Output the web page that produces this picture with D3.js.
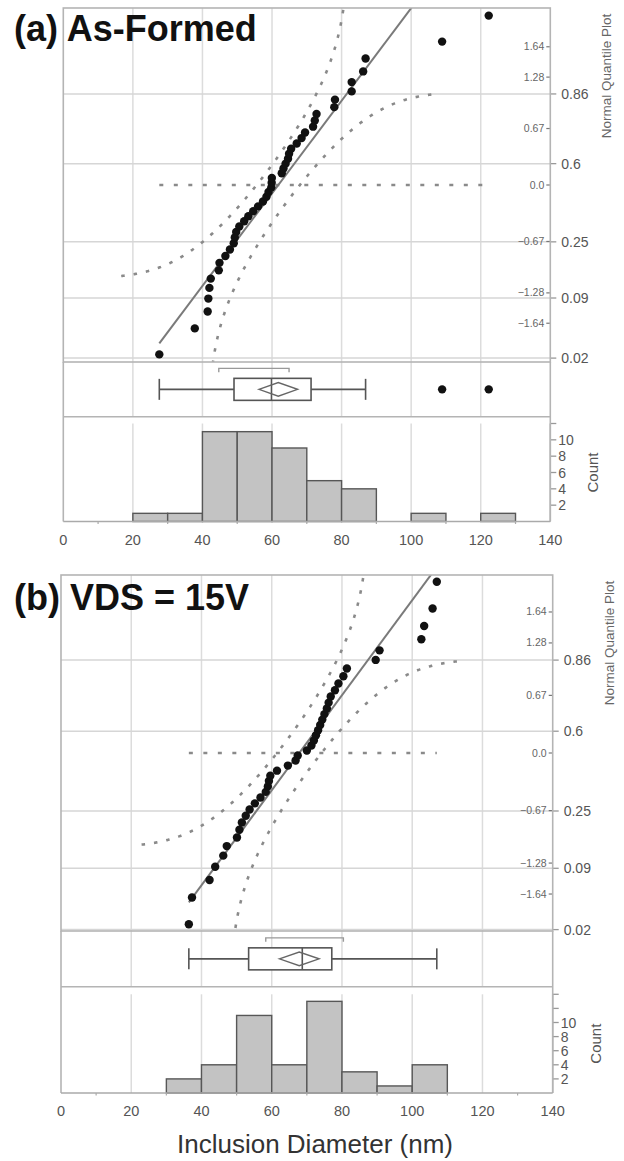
<!DOCTYPE html>
<html>
<head>
<meta charset="utf-8">
<script src="https://cdn.jsdelivr.net/npm/d3@7"></script>
<style>
  body { margin: 0; background: #fff; }
  svg { display: block; font-family: "Liberation Sans", Arial, sans-serif; }
</style>
</head>
<body>
<svg id="chart" width="624" height="1161"></svg>
<script>
// Sorted inclusion diameters (nm)
const diamAsFormed = [27.6, 37.8, 41.5, 41.7, 42.0, 42.4, 44.7, 44.9, 46.6, 47.9, 49.0,
  49.3, 49.7, 50.6, 52.0, 53.2, 54.6, 56.0, 57.4, 58.4, 59.0, 59.8, 59.9, 59.95, 62.8,
  63.3, 63.9, 64.6, 64.9, 65.5, 67.1, 68.5, 69.5, 71.8, 72.3, 72.8, 77.9, 78.1, 82.9,
  82.9, 86.2, 86.9, 108.9, 122.3];
const diamVDS15 = [36.4, 37.3, 42.3, 43.9, 46.2, 47.2, 50.1, 50.8, 51.5, 52.6, 53.7,
  55.2, 56.8, 58.3, 58.9, 59.2, 59.6, 61.5, 64.6, 66.8, 67.4, 70.0, 71.3, 72.0, 72.6,
  73.2, 73.8, 74.4, 75.0, 75.7, 76.2, 76.8, 78.0, 79.0, 80.4, 81.4, 89.6, 90.7, 102.6,
  103.4, 105.8, 107.0];

// axis ticks
const xTicks = [0, 20, 40, 60, 80, 100, 120, 140];
const xMinorTicks = [10, 30, 50, 70, 90, 110, 130];
const xGrid = [20, 40, 60, 80, 100, 120];
const probTicks = [0.02, 0.09, 0.25, 0.6, 0.86];
const quantTicks = [-1.64, -1.28, -0.67, 0, 0.67, 1.28, 1.64];
const countLabels = [2, 4, 6, 8, 10];
const binEdges = d3.range(0, 141, 10);

const svg = d3.select("#chart");

// normal cdf / inverse cdf
function normCdf(x) {
  const t = 1 / (1 + 0.3275911 * Math.abs(x) / Math.SQRT2);
  const y = 1 - (((((1.061405429 * t - 1.453152027) * t) + 1.421413741) * t - 0.284496736) * t + 0.254829592) * t * Math.exp(-x * x / 2);
  return x >= 0 ? (1 + y) / 2 : (1 - y) / 2;
}
function normInv(p) {
  const a = [-39.69683028665376, 220.9460984245205, -275.9285104469687, 138.3577518672690, -30.66479806614716, 2.506628277459239];
  const b = [-54.47609879822406, 161.5858368580409, -155.6989798598866, 66.80131188771972, -13.28068155288572];
  const c = [-0.007784894002430293, -0.3223964580411365, -2.400758277161838, -2.549732539343734, 4.374664141464968, 2.938163982698783];
  const d = [0.007784695709041462, 0.3224671290700398, 2.445134137142996, 3.754408661907416];
  const pl = 0.02425;
  let q, r;
  if (p < pl) {
    q = Math.sqrt(-2 * Math.log(p));
    return (((((c[0] * q + c[1]) * q + c[2]) * q + c[3]) * q + c[4]) * q + c[5]) / ((((d[0] * q + d[1]) * q + d[2]) * q + d[3]) * q + 1);
  }
  if (p > 1 - pl) {
    q = Math.sqrt(-2 * Math.log(1 - p));
    return -(((((c[0] * q + c[1]) * q + c[2]) * q + c[3]) * q + c[4]) * q + c[5]) / ((((d[0] * q + d[1]) * q + d[2]) * q + d[3]) * q + 1);
  }
  q = p - 0.5; r = q * q;
  return (((((a[0] * r + a[1]) * r + a[2]) * r + a[3]) * r + a[4]) * r + a[5]) * q / (((((b[0] * r + b[1]) * r + b[2]) * r + b[3]) * r + b[4]) * r + 1);
}

// JMP style quantile: rank p*(n+1), interpolated
function quant(s, p) {
  const n = s.length, r = p * (n + 1), lo = Math.floor(r), f = r - lo;
  if (lo < 1) return s[0];
  if (lo >= n) return s[n - 1];
  return s[lo - 1] + f * (s[lo] - s[lo - 1]);
}

function drawPanel(cfg) {
  const data = cfg.values.slice().sort((a, b) => a - b);
  const n = data.length;
  const mean = d3.mean(data), sd = d3.deviation(data);

  const x = d3.scaleLinear().domain([0, 140]).range([cfg.x0, cfg.x1]);
  const z = d3.scaleLinear().domain([-cfg.zMax, cfg.zMax]).range([cfg.qqBottom, cfg.qqTop]);
  const yc = d3.scaleLinear().domain([0, cfg.countMax]).range([cfg.base, cfg.histTop]);

  const g = svg.append("g");
  const clipId = "clip" + cfg.key;
  svg.append("clipPath").attr("id", clipId).append("rect")
    .attr("x", cfg.x0).attr("y", cfg.qqTop)
    .attr("width", cfg.x1 - cfg.x0).attr("height", cfg.qqBottom - cfg.qqTop);

  // gridlines
  g.selectAll(".vg").data(xGrid).join("line")
    .attr("x1", d => x(d)).attr("x2", d => x(d))
    .attr("y1", cfg.qqTop).attr("y2", cfg.boxBottom)
    .attr("stroke", "#dcdcdc").attr("stroke-width", 1.5);
  g.selectAll(".hg").data(xGrid).join("line")
    .attr("x1", d => x(d)).attr("x2", d => x(d))
    .attr("y1", cfg.histTop).attr("y2", cfg.base)
    .attr("stroke", "#dcdcdc").attr("stroke-width", 1.5);
  g.selectAll(".pg").data(probTicks).join("line")
    .attr("x1", cfg.x0).attr("x2", cfg.x1)
    .attr("y1", d => z(normInv(d))).attr("y2", d => z(normInv(d)))
    .attr("stroke", "#d6d6d6").attr("stroke-width", 1.5);

  // quantile plot contents
  const qq = g.append("g").attr("clip-path", `url(#${clipId})`);
  const D = 0.886 / Math.sqrt(n);
  const us = d3.range(-2.48, 2.4801, 0.01);
  const bandLine = d3.line().x(d => x(d[0])).y(d => z(d[1]));
  const upper = us.map(u => [mean + u * sd, normCdf(u) + D])
    .filter(d => d[1] < 0.9999).map(d => [d[0], normInv(d[1])]);
  const lower = us.map(u => [mean + u * sd, normCdf(u) - D])
    .filter(d => d[1] > 0.0001).map(d => [d[0], normInv(d[1])]);
  [upper, lower].forEach(pts => {
    qq.append("path").attr("d", bandLine(pts))
      .attr("fill", "none").attr("stroke", "#8a8a8a")
      .attr("stroke-width", 2.6).attr("stroke-dasharray", "3.5,9");
  });
  qq.append("line")
    .attr("x1", x(data[0])).attr("x2", x(data[n - 1]))
    .attr("y1", z(0)).attr("y2", z(0))
    .attr("stroke", "#8a8a8a").attr("stroke-width", 2.6).attr("stroke-dasharray", "4,10.5");
  const zTopFit = cfg.zMax + 0.2;
  qq.append("line")
    .attr("x1", x(data[0])).attr("y1", z((data[0] - mean) / sd))
    .attr("x2", x(mean + zTopFit * sd)).attr("y2", z(zTopFit))
    .attr("stroke", "#7a7a7a").attr("stroke-width", 2);
  qq.selectAll("circle").data(data).join("circle")
    .attr("cx", d => x(d))
    .attr("cy", (d, i) => z(normInv((i + 1) / (n + 1))))
    .attr("r", 4.2).attr("fill", "#111");

  // inner quantile ticks and labels
  g.selectAll(".qt").data(quantTicks).join("line")
    .attr("x1", cfg.x1 - 4).attr("x2", cfg.x1)
    .attr("y1", d => z(d)).attr("y2", d => z(d))
    .attr("stroke", "#777").attr("stroke-width", 1.2);
  g.selectAll(".ql").data(quantTicks).join("text")
    .attr("x", cfg.x1 - 6).attr("y", d => z(d) + 3.5)
    .attr("text-anchor", "end").attr("font-size", 10.5).attr("fill", "#666")
    .text(d => d === 0 ? "0.0" : d3.format(".2f")(d));

  // right probability axis
  g.selectAll(".pt").data(probTicks).join("line")
    .attr("x1", cfg.x1).attr("x2", cfg.x1 + 6)
    .attr("y1", d => z(normInv(d))).attr("y2", d => z(normInv(d)))
    .attr("stroke", "#999").attr("stroke-width", 1.3);
  g.selectAll(".pl").data(probTicks).join("text")
    .attr("x", cfg.x1 + 11).attr("y", d => z(normInv(d)) + 5)
    .attr("font-size", 14).attr("fill", "#555")
    .text(d => d);
  g.append("text")
    .attr("transform", `translate(${cfg.x1 + 61},${cfg.qqTop + 68}) rotate(-90)`)
    .attr("text-anchor", "middle").attr("font-size", 13.5).attr("fill", "#666")
    .text("Normal Quantile Plot");

  // outlier box plot
  const q1 = quant(data, 0.25), med = quant(data, 0.5), q3 = quant(data, 0.75);
  const iqr = q3 - q1;
  const wLo = d3.min(data.filter(d => d >= q1 - 1.5 * iqr));
  const wHi = d3.max(data.filter(d => d <= q3 + 1.5 * iqr));
  const outliers = data.filter(d => d < wLo || d > wHi);
  const h = Math.floor(n / 2) + 1;
  let shLo = data[0], shHi = data[n - 1];
  for (let i = 0; i + h - 1 < n; i++) {
    if (data[i + h - 1] - data[i] < shHi - shLo) { shLo = data[i]; shHi = data[i + h - 1]; }
  }
  const ci = 2.02 * sd / Math.sqrt(n);
  const by = (cfg.qqBottom + cfg.boxBottom) / 2;
  const bx = g.append("g").attr("stroke", "#555").attr("fill", "none").attr("stroke-width", 1.6);
  bx.append("line").attr("x1", x(wLo)).attr("x2", x(q1)).attr("y1", by).attr("y2", by);
  bx.append("line").attr("x1", x(q3)).attr("x2", x(wHi)).attr("y1", by).attr("y2", by);
  [wLo, wHi].forEach(v => bx.append("line").attr("x1", x(v)).attr("x2", x(v))
    .attr("y1", by - 10.5).attr("y2", by + 10.5));
  bx.append("rect").attr("x", x(q1)).attr("y", by - 11)
    .attr("width", x(q3) - x(q1)).attr("height", 22).attr("fill", "#fff");
  bx.append("line").attr("x1", x(med)).attr("x2", x(med)).attr("y1", by - 11).attr("y2", by + 11);
  bx.append("path").attr("stroke", "#666").attr("stroke-width", 1.4)
    .attr("d", `M${x(mean - ci)},${by}L${x(mean)},${by - 6.8}L${x(mean + ci)},${by}L${x(mean)},${by + 6.8}Z`);
  bx.append("path").attr("stroke", "#999").attr("stroke-width", 1.4)
    .attr("d", `M${x(shLo)},${by - 17}V${by - 21}H${x(shHi)}V${by - 17}`);
  g.selectAll(".ol").data(outliers).join("circle")
    .attr("cx", d => x(d)).attr("cy", by).attr("r", 4.2).attr("fill", "#111");

  // histogram
  const bins = d3.bin().domain([0, 140]).thresholds(binEdges)(data).filter(b => b.length > 0);
  g.selectAll(".bar").data(bins).join("rect")
    .attr("x", b => x(b.x0)).attr("y", b => yc(b.length))
    .attr("width", b => x(b.x1) - x(b.x0)).attr("height", b => yc(0) - yc(b.length))
    .attr("fill", "#c3c3c3").attr("stroke", "#575757").attr("stroke-width", 1.4);

  // count axis
  const cTicks = d3.range(2, cfg.countMax + 1, 2);
  g.append("line").attr("x1", cfg.x1).attr("x2", cfg.x1)
    .attr("y1", cfg.histTop).attr("y2", cfg.base).attr("stroke", "#aaa").attr("stroke-width", 1.5);
  g.selectAll(".ct").data(cTicks).join("line")
    .attr("x1", cfg.x1).attr("x2", cfg.x1 + 6)
    .attr("y1", d => yc(d)).attr("y2", d => yc(d))
    .attr("stroke", "#999").attr("stroke-width", 1.3);
  g.selectAll(".cl").data(countLabels).join("text")
    .attr("x", cfg.x1 + 8).attr("y", d => yc(d) + 5)
    .attr("font-size", 14).attr("fill", "#555").text(d => d);
  g.append("text")
    .attr("transform", `translate(${cfg.x1 + 48},${(cfg.histTop + cfg.base) / 2}) rotate(-90)`)
    .attr("text-anchor", "middle").attr("font-size", 15).attr("fill", "#555")
    .text("Count");

  // frame
  const fr = g.append("g").attr("stroke", "#b4b4b4").attr("stroke-width", 1.6).attr("fill", "none");
  fr.append("rect").attr("x", cfg.x0).attr("y", cfg.qqTop)
    .attr("width", cfg.x1 - cfg.x0).attr("height", cfg.qqBottom - cfg.qqTop);
  fr.append("line").attr("x1", cfg.x0).attr("x2", cfg.x0).attr("y1", cfg.qqBottom).attr("y2", cfg.base);
  fr.append("line").attr("x1", cfg.x1).attr("x2", cfg.x1).attr("y1", cfg.qqBottom).attr("y2", cfg.base);
  fr.append("line").attr("x1", cfg.x0).attr("x2", cfg.x1).attr("y1", cfg.boxBottom).attr("y2", cfg.boxBottom);

  // x axis
  g.append("line").attr("x1", cfg.x0).attr("x2", cfg.x1).attr("y1", cfg.base).attr("y2", cfg.base)
    .attr("stroke", "#aaa").attr("stroke-width", 1.6);
  g.selectAll(".xm").data(xMinorTicks).join("line")
    .attr("x1", d => x(d)).attr("x2", d => x(d))
    .attr("y1", cfg.base).attr("y2", cfg.base + 2.5)
    .attr("stroke", "#aaa").attr("stroke-width", 1.2);
  g.selectAll(".xl").data(xTicks).join("text")
    .attr("x", d => x(d)).attr("y", cfg.base + 23)
    .attr("text-anchor", "middle").attr("font-size", 14.5).attr("fill", "#555")
    .text(d => d);

  // panel title
  g.append("text").attr("x", 14).attr("y", cfg.titleY)
    .attr("font-size", 36).attr("font-weight", "bold").attr("fill", "#111")
    .text(cfg.title);
}

drawPanel({ key: "a", values: diamAsFormed, title: "(a) As-Formed", titleY: 41,
  x0: 63.3, x1: 550.3, zMax: 2.1, qqTop: 8, qqBottom: 362, boxBottom: 416.7,
  histTop: 423.5, base: 521.5, countMax: 12 });
drawPanel({ key: "b", values: diamVDS15, title: "(b) VDS = 15V", titleY: 610,
  x0: 61, x1: 552.7, zMax: 2.07, qqTop: 575, qqBottom: 931, boxBottom: 986.7,
  histTop: 994.3, base: 1093, countMax: 14 });

svg.append("text").attr("x", 315).attr("y", 1153)
  .attr("text-anchor", "middle").attr("font-size", 26).attr("fill", "#333")
  .text("Inclusion Diameter (nm)");
</script>
</body>
</html>
